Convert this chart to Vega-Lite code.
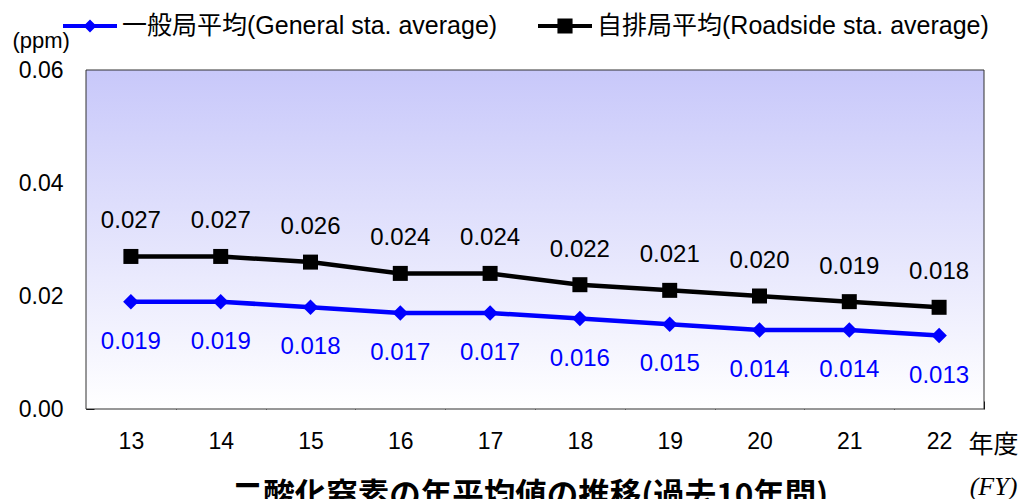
{
  "$schema": "https://vega.github.io/schema/vega-lite/v6.json",
  "autosize": "none",
  "padding": {"left": 86, "top": 70, "right": 39, "bottom": 90},
  "width": 898,
  "height": 339,
  "background": "#ffffff",
  "title": {
    "text": "二酸化窒素の年平均値の推移(過去10年間)",
    "orient": "bottom",
    "anchor": "middle",
    "offset": -18,
    "dx": -5,
    "font": "Noto Sans CJK JP",
    "fontSize": 31.5,
    "fontWeight": "bold",
    "color": "#000000"
  },
  "data": {
    "values": [
      {"year": "13", "series": "一般局平均(General sta. average)", "value": 0.019},
      {"year": "14", "series": "一般局平均(General sta. average)", "value": 0.019},
      {"year": "15", "series": "一般局平均(General sta. average)", "value": 0.018},
      {"year": "16", "series": "一般局平均(General sta. average)", "value": 0.017},
      {"year": "17", "series": "一般局平均(General sta. average)", "value": 0.017},
      {"year": "18", "series": "一般局平均(General sta. average)", "value": 0.016},
      {"year": "19", "series": "一般局平均(General sta. average)", "value": 0.015},
      {"year": "20", "series": "一般局平均(General sta. average)", "value": 0.014},
      {"year": "21", "series": "一般局平均(General sta. average)", "value": 0.014},
      {"year": "22", "series": "一般局平均(General sta. average)", "value": 0.013},
      {"year": "13", "series": "自排局平均(Roadside sta. average)", "value": 0.027},
      {"year": "14", "series": "自排局平均(Roadside sta. average)", "value": 0.027},
      {"year": "15", "series": "自排局平均(Roadside sta. average)", "value": 0.026},
      {"year": "16", "series": "自排局平均(Roadside sta. average)", "value": 0.024},
      {"year": "17", "series": "自排局平均(Roadside sta. average)", "value": 0.024},
      {"year": "18", "series": "自排局平均(Roadside sta. average)", "value": 0.022},
      {"year": "19", "series": "自排局平均(Roadside sta. average)", "value": 0.021},
      {"year": "20", "series": "自排局平均(Roadside sta. average)", "value": 0.020},
      {"year": "21", "series": "自排局平均(Roadside sta. average)", "value": 0.019},
      {"year": "22", "series": "自排局平均(Roadside sta. average)", "value": 0.018}
    ]
  },
  "layer": [
    {
      "data": {"values": [{"bottom": 0, "top": 0.06}]},
      "mark": {
        "type": "rect",
        "stroke": "#303030",
        "strokeWidth": 1,
        "color": {
          "gradient": "linear", "x1": 0, "y1": 0, "x2": 0, "y2": 1,
          "stops": [{"offset": 0, "color": "#c8c8fa"}, {"offset": 1, "color": "#ffffff"}]
        }
      },
      "encoding": {
        "y": {
          "field": "bottom", "type": "quantitative",
          "scale": {"domain": [0, 0.06], "nice": false, "zero": true},
          "axis": {
            "values": [0, 0.02, 0.04, 0.06], "format": ".2f",
            "offset": -8, "domain": false, "tickSize": 8,
            "labelPadding": 23, "labelFontSize": 23,
            "title": "(ppm)", "titleAngle": 0, "titleX": -82, "titleY": -30,
            "titleAlign": "left", "titleBaseline": "middle", "titleFontSize": 22
          }
        },
        "y2": {"field": "top"}
      }
    },
    {
      "transform": [{"filter": "datum.series === '一般局平均(General sta. average)'"}],
      "mark": {"type": "line", "strokeWidth": 4.5, "color": "#0000ff"},
      "encoding": {
        "x": {
          "field": "year", "type": "ordinal",
          "scale": {"type": "band", "paddingInner": 0, "paddingOuter": 0},
          "axis": {
            "orient": "bottom", "labelAngle": 0, "tickBand": "extent",
            "offset": -8, "domain": false, "tickSize": 8,
            "labelPadding": 21, "labelFontSize": 23,
            "title": "年度", "titleX": 907, "titleY": 43, "titleAlign": "center", "titleBaseline": "middle",
            "titleFontSize": 25, "titleFont": "Noto Sans CJK JP"
          }
        },
        "y": {"field": "value", "type": "quantitative"}
      }
    },
    {
      "transform": [{"filter": "datum.series === '自排局平均(Roadside sta. average)'"}],
      "mark": {"type": "line", "strokeWidth": 4.5, "color": "#000000"},
      "encoding": {
        "x": {"field": "year", "type": "ordinal", "axis": null},
        "y": {"field": "value", "type": "quantitative"}
      }
    },
    {
      "mark": {"type": "point", "filled": true, "opacity": 0},
      "encoding": {
        "x": {"field": "year", "type": "ordinal", "axis": null},
        "y": {"field": "value", "type": "quantitative"},
        "color": {
          "field": "series", "type": "nominal",
          "scale": {
            "domain": ["一般局平均(General sta. average)", "自排局平均(Roadside sta. average)"],
            "range": ["#0000ff", "#000000"]
          },
          "legend": {
            "orient": "none", "legendX": -23, "legendY": -71, "direction": "horizontal",
            "title": null, "padding": 0, "columnPadding": 40, "labelOffset": 5, "labelLimit": 600,
            "labelFontSize": 25, "labelFont": "Liberation Sans, Noto Sans CJK JP", "labelColor": "#000000",
            "symbolSize": 2916, "symbolOpacity": 1, "symbolStrokeWidth": 0
          }
        },
        "shape": {
          "field": "series", "type": "nominal",
          "scale": {
            "domain": ["一般局平均(General sta. average)", "自排局平均(Roadside sta. average)"],
            "range": [
              "M-1,-0.075H1V0.075H-1ZM0,-0.24L0.24,0L0,0.24L-0.24,0Z",
              "M-1,-0.075H1V0.075H-1ZM-0.28,-0.28H0.28V0.28H-0.28Z"
            ]
          },
          "legend": {
            "orient": "none", "legendX": -23, "legendY": -71, "direction": "horizontal",
            "title": null, "padding": 0, "columnPadding": 40, "labelOffset": 5, "labelLimit": 600,
            "labelFontSize": 25, "labelFont": "Liberation Sans, Noto Sans CJK JP", "labelColor": "#000000",
            "symbolSize": 2916, "symbolOpacity": 1, "symbolStrokeWidth": 0
          }
        }
      }
    },
    {
      "transform": [{"filter": "datum.series === '一般局平均(General sta. average)'"}],
      "mark": {"type": "point", "shape": "diamond", "filled": true, "color": "#0000ff", "size": 240, "opacity": 1},
      "encoding": {
        "x": {
          "field": "year", "type": "ordinal",
          "axis": {
            "orient": "bottom", "labels": false, "ticks": false, "domain": false,
            "title": "(FY)", "titleX": 907, "titleY": 77, "titleAlign": "center", "titleBaseline": "middle",
            "titleFont": "Liberation Serif", "titleFontStyle": "italic", "titleFontSize": 26
          }
        },
        "y": {"field": "value", "type": "quantitative"}
      }
    },
    {
      "transform": [{"filter": "datum.series === '自排局平均(Roadside sta. average)'"}],
      "mark": {"type": "point", "shape": "square", "filled": true, "color": "#000000", "size": 225, "opacity": 1},
      "encoding": {
        "x": {"field": "year", "type": "ordinal", "axis": null},
        "y": {"field": "value", "type": "quantitative"}
      }
    },
    {
      "transform": [{"filter": "datum.series === '自排局平均(Roadside sta. average)'"}],
      "mark": {"type": "text", "dy": -35, "fontSize": 24, "color": "#000000", "baseline": "middle", "align": "center"},
      "encoding": {
        "x": {"field": "year", "type": "ordinal", "axis": null},
        "y": {"field": "value", "type": "quantitative"},
        "text": {"field": "value", "type": "quantitative", "format": ".3f"}
      }
    },
    {
      "transform": [{"filter": "datum.series === '一般局平均(General sta. average)'"}],
      "mark": {"type": "text", "dy": 40, "fontSize": 24, "color": "#0000ff", "baseline": "middle", "align": "center"},
      "encoding": {
        "x": {"field": "year", "type": "ordinal", "axis": null},
        "y": {"field": "value", "type": "quantitative"},
        "text": {"field": "value", "type": "quantitative", "format": ".3f"}
      }
    }
  ],
  "resolve": {"axis": {"x": "independent"}},
  "config": {
    "font": "Liberation Sans, Noto Sans CJK JP",
    "view": {"stroke": null},
    "axis": {
      "grid": false,
      "zindex": 1,
      "domainColor": "#000000",
      "tickColor": "#000000",
      "tickWidth": 1,
      "labelColor": "#000000",
      "titleColor": "#000000",
      "titleFontWeight": "normal",
      "labelFont": "Liberation Sans, Noto Sans CJK JP",
      "titleFont": "Liberation Sans, Noto Sans CJK JP"
    },
    "text": {"font": "Liberation Sans, Noto Sans CJK JP"}
  }
}
